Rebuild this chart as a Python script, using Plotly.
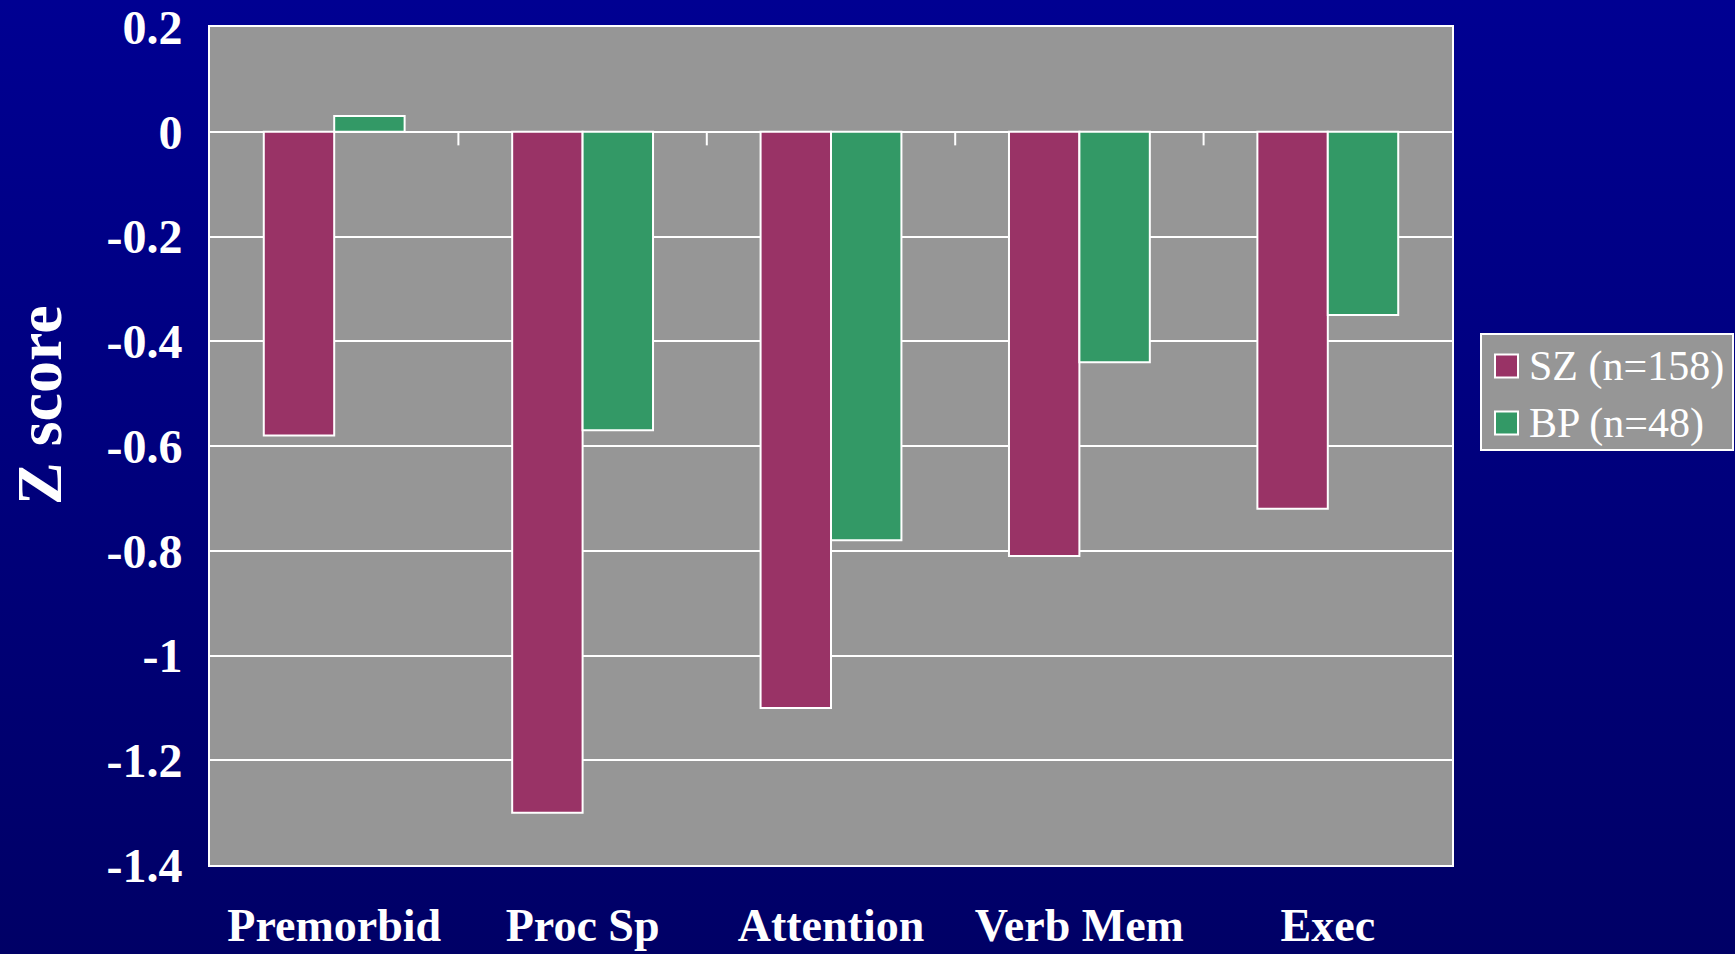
import base64
import plotly.graph_objects as go

# Cognitive domains and mean z-scores per group
domains = ["Premorbid", "Proc Sp", "Attention", "Verb Mem", "Exec"]
sz_name = "SZ (n=158)"
bp_name = "BP (n=48)"
sz_scores = [-0.58, -1.30, -1.10, -0.81, -0.72]
bp_scores = [0.03, -0.57, -0.78, -0.44, -0.35]
y_ticks = [0.2, 0, -0.2, -0.4, -0.6, -0.8, -1, -1.2, -1.4]

SZ_COLOR = "#993366"
BP_COLOR = "#339966"
PLOT_BG = "#969696"
FONT = "Liberation Serif, Times New Roman, serif"

W, H = 1735, 954
L, R, T, B = 210, 1452, 27, 865  # plot area edges in pixels
PW, PH = R - L, B - T


def px_x(px):
    return (px - L) / PW


def px_y(py):
    return (B - py) / PH


fig = go.Figure()
fig.add_trace(go.Bar(x=domains, y=sz_scores, name=sz_name,
                     marker=dict(color=SZ_COLOR, line=dict(color="white", width=2))))
fig.add_trace(go.Bar(x=domains, y=bp_scores, name=bp_name,
                     marker=dict(color=BP_COLOR, line=dict(color="white", width=2))))

# vertical gradient behind the whole page
svg = ('<svg xmlns="http://www.w3.org/2000/svg" width="10" height="100" preserveAspectRatio="none">'
       '<defs><linearGradient id="g" x1="0" y1="0" x2="0" y2="1">'
       '<stop offset="0" stop-color="#000092"/><stop offset="1" stop-color="#000066"/>'
       '</linearGradient></defs><rect width="10" height="100" fill="url(#g)"/></svg>')
bg_src = "data:image/svg+xml;base64," + base64.b64encode(svg.encode()).decode()
fig.add_layout_image(dict(source=bg_src, xref="paper", yref="paper",
                          x=px_x(0), y=px_y(0), sizex=W / PW, sizey=H / PH,
                          xanchor="left", yanchor="top", sizing="stretch",
                          layer="below", opacity=1))

shapes = []
# grey plotting area
shapes.append(dict(type="rect", xref="paper", yref="paper", x0=0, x1=1, y0=0, y1=1,
                   fillcolor=PLOT_BG, line=dict(width=0), layer="below"))
# category separator ticks hanging from the zero line
for i in range(len(domains) - 1):
    shapes.append(dict(type="line", xref="x", yref="y", x0=i + 0.5, x1=i + 0.5,
                       y0=0, y1=-0.026, line=dict(color="white", width=2), layer="above"))

# legend box
lx0, lx1, ly0, ly1 = 1481, 1733, 334, 450
shapes.append(dict(type="rect", xref="paper", yref="paper",
                   x0=px_x(lx0), x1=px_x(lx1), y0=px_y(ly1), y1=px_y(ly0),
                   fillcolor=PLOT_BG, line=dict(color="white", width=2)))
annotations = []
for name, color, cy in [(sz_name, SZ_COLOR, 366), (bp_name, BP_COLOR, 423)]:
    shapes.append(dict(type="rect", xref="paper", yref="paper",
                       x0=px_x(1495), x1=px_x(1518), y0=px_y(cy + 11.5), y1=px_y(cy - 11.5),
                       fillcolor=color, line=dict(color="white", width=2)))
    annotations.append(dict(text=name, xref="paper", yref="paper", x=px_x(1527), y=px_y(cy),
                            xanchor="left", yanchor="middle", showarrow=False,
                            font=dict(family=FONT, size=42, color="white")))

# y-axis title
annotations.append(dict(text="<b>Z score</b>", xref="paper", yref="paper",
                        x=px_x(39), y=px_y(405), xanchor="center", yanchor="middle",
                        textangle=-90, showarrow=False,
                        font=dict(family=FONT, size=64, color="white")))

fig.update_layout(
    width=W, height=H,
    margin=dict(l=L, r=W - R, t=T, b=H - B, pad=0, autoexpand=False),
    paper_bgcolor="#00007d",
    plot_bgcolor="rgba(0,0,0,0)",
    barmode="group", bargap=0.433, bargroupgap=0,
    showlegend=False,
    shapes=shapes, annotations=annotations,
    font=dict(family=FONT, color="white"),
)
fig.update_xaxes(
    automargin=False,
    showgrid=False, showline=True, mirror=True, linecolor="white", linewidth=2,
    ticks="", tickfont=dict(family=FONT, size=46, color="white", weight="bold"),
    ticklabelstandoff=19,
)
fig.update_yaxes(
    automargin=False,
    range=[-1.4, 0.2], tickvals=y_ticks, ticktext=[f"{v:g}" for v in y_ticks],
    showgrid=True, gridcolor="white", gridwidth=2,
    zeroline=True, zerolinecolor="white", zerolinewidth=2,
    showline=True, mirror=True, linecolor="white", linewidth=2,
    ticks="", tickfont=dict(family=FONT, size=48, color="white", weight="bold"),
    ticklabelstandoff=16,
)

fig.write_html("out.html")
